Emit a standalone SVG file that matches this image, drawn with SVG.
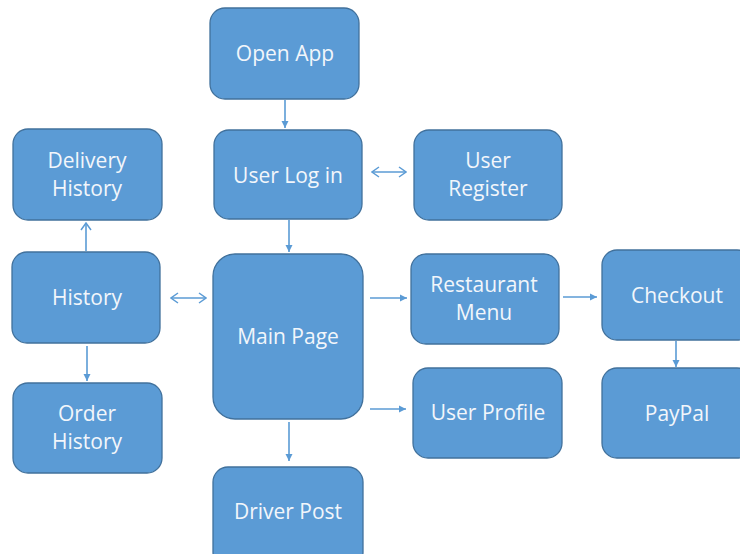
<svg xmlns="http://www.w3.org/2000/svg" width="740" height="554" viewBox="0 0 740 554">
<defs>
<marker id="ah" markerWidth="8" markerHeight="8" refX="7" refY="4" orient="auto" markerUnits="userSpaceOnUse">
<path d="M0,0.5 L7,4 L0,7.5 Z" fill="#5B9BD5"/>
</marker>
<marker id="oh" markerWidth="10" markerHeight="12" refX="9" refY="6" orient="auto-start-reverse" markerUnits="userSpaceOnUse">
<path d="M2,1 L9,6 L2,11" fill="none" stroke="#5B9BD5" stroke-width="1.5"/>
</marker>
<style>
.box{fill:#5B9BD5;stroke:#41719C;stroke-width:1.3}
.t{font-family:"Open Sans","Liberation Sans",sans-serif;font-size:21px;fill:#F2F6FB;text-anchor:middle}
.c{stroke:#5B9BD5;stroke-width:1.6;fill:none}
</style>
</defs>
<rect width="740" height="554" fill="#FFFFFF"/>
<g id="connectors">
<line class="c" x1="285" y1="100" x2="285" y2="128" marker-end="url(#ah)"/>
<line class="c" x1="372" y1="172" x2="406" y2="172" marker-start="url(#oh)" marker-end="url(#oh)"/>
<line class="c" x1="289" y1="220" x2="289" y2="252" marker-end="url(#ah)"/>
<line class="c" x1="86" y1="251" x2="86" y2="223" marker-end="url(#oh)"/>
<line class="c" x1="171" y1="298" x2="206" y2="298" marker-start="url(#oh)" marker-end="url(#oh)"/>
<line class="c" x1="87" y1="346" x2="87" y2="381" marker-end="url(#ah)"/>
<line class="c" x1="370" y1="298" x2="407" y2="298" marker-end="url(#ah)"/>
<line class="c" x1="370" y1="409" x2="406" y2="409" marker-end="url(#ah)"/>
<line class="c" x1="289" y1="422" x2="289" y2="461" marker-end="url(#ah)"/>
<line class="c" x1="563" y1="297" x2="597" y2="297" marker-end="url(#ah)"/>
<line class="c" x1="676" y1="341" x2="676" y2="367" marker-end="url(#ah)"/>
</g>
<g id="open-app"><rect class="box" x="210" y="8" width="149" height="91" rx="15"/><text class="t" x="285" y="61">Open App</text></g>
<g id="user-login"><rect class="box" x="214" y="130" width="148" height="89" rx="15"/><text class="t" x="288" y="183">User Log in</text></g>
<g id="user-register"><rect class="box" x="414" y="130" width="148" height="90" rx="15"/><text class="t" x="488" y="168">User</text><text class="t" x="488" y="196">Register</text></g>
<g id="delivery-history"><rect class="box" x="13" y="129" width="149" height="91" rx="15"/><text class="t" x="87" y="168">Delivery</text><text class="t" x="87" y="196">History</text></g>
<g id="history"><rect class="box" x="12" y="252" width="148" height="91" rx="15"/><text class="t" x="87" y="305">History</text></g>
<g id="order-history"><rect class="box" x="13" y="383" width="149" height="90" rx="15"/><text class="t" x="87" y="421">Order</text><text class="t" x="87" y="449">History</text></g>
<g id="main-page"><rect class="box" x="213" y="254" width="150" height="165" rx="22"/><text class="t" x="288" y="344">Main Page</text></g>
<g id="restaurant-menu"><rect class="box" x="411" y="254" width="148" height="90" rx="15"/><text class="t" x="484" y="292">Restaurant</text><text class="t" x="484" y="320">Menu</text></g>
<g id="user-profile"><rect class="box" x="413" y="368" width="149" height="90" rx="15"/><text class="t" x="488" y="420">User Profile</text></g>
<g id="checkout"><rect class="box" x="602" y="250" width="150" height="90" rx="15"/><text class="t" x="677" y="303">Checkout</text></g>
<g id="paypal"><rect class="box" x="602" y="368" width="150" height="90" rx="15"/><text class="t" x="677" y="421">PayPal</text></g>
<g id="driver-post"><rect class="box" x="213" y="467" width="150" height="100" rx="15"/><text class="t" x="288" y="519">Driver Post</text></g>
</svg>
